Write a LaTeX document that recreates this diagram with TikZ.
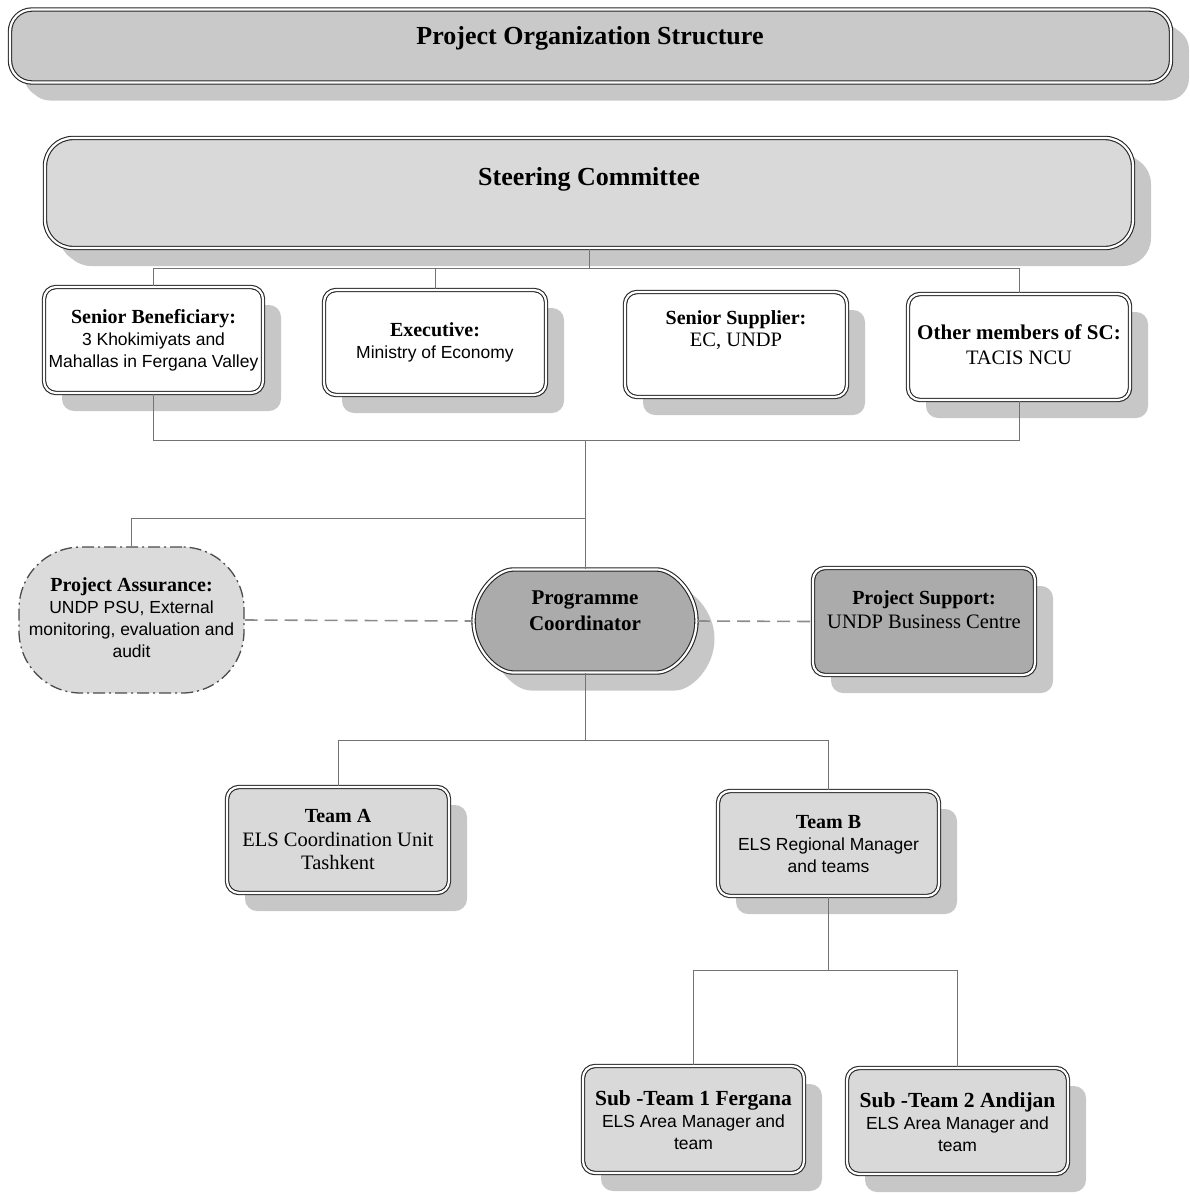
\documentclass[tikz,border=0pt]{standalone}
\usepackage{fontspec}
\setmainfont{Liberation Serif}
\setsansfont{Liberation Sans}
\usetikzlibrary{shadows,shapes.misc}
\newcommand\myhd[1]{{\fontsize{20}{22}\selectfont\bfseries #1}}
\newcommand\mysf[1]{{\fontsize{17.5}{22}\selectfont\sffamily #1}}
\newcommand\myrm[1]{{\fontsize{20.5}{22}\selectfont #1}}
\begin{document}
\begin{tikzpicture}[x=1pt,y=-1pt,
  box/.style={draw=black!85, line width=1.1pt, double=white, double distance=2.2pt,
    rounded corners=12pt, inner sep=0pt,
    drop shadow={shadow xshift=18pt, shadow yshift=-18pt, fill=black!22, opacity=1}},
  bigbox/.style={box, rounded corners=22pt,
    drop shadow={shadow xshift=14pt, shadow yshift=-15pt, fill=black!22, opacity=1}},
  txt/.style={align=center, inner sep=0pt, font=\fontsize{17.5}{22}\selectfont},
  conn/.style={draw=black!55, line width=0.9pt},
  dsh/.style={draw=black!45, line width=1.6pt, dash pattern=on 13pt off 7pt},
  lightfill/.style={fill=black!15},
  darkfill/.style={fill=black!33}
]
\useasboundingbox (0,0) rectangle (1190,1194);

% boxes
\node[bigbox, fill=black!21, minimum width=1161pt, minimum height=73pt] (title) at (590.5,46) {};
\node[bigbox, fill=black!15, minimum width=1088pt, minimum height=110pt, rounded corners=28pt] (sc) at (589,193) {};
\node[box, fill=white, minimum width=219pt, minimum height=106pt] (sb) at (153.5,340) {};
\node[box, fill=white, minimum width=222pt, minimum height=105pt] (ex) at (435,342.5) {};
\node[box, fill=white, minimum width=222pt, minimum height=105pt] (ss) at (736,344.5) {};
\node[box, fill=white, minimum width=222pt, minimum height=106pt] (oth) at (1019,347) {};
\node[draw=black!70, line width=1.3pt, dash pattern=on 12pt off 4pt on 2pt off 4pt,
      fill=black!14, rounded corners=62pt, minimum width=225pt, minimum height=146pt,
      inner sep=0pt] (pa) at (131.5,620) {};
\node[box, rounded rectangle, darkfill, minimum width=223pt, minimum height=103pt] (pc) at (585,621) {};
\node[box, darkfill, minimum width=222pt, minimum height=107pt] (ps) at (924,621.5) {};
\node[box, lightfill, minimum width=222pt, minimum height=106pt] (ta) at (338,840) {};
\node[box, lightfill, minimum width=221pt, minimum height=105pt] (tb) at (828.5,843.5) {};
\node[box, lightfill, minimum width=221pt, minimum height=107pt] (s1) at (693.5,1119.5) {};
\node[box, lightfill, minimum width=221pt, minimum height=106pt] (s2) at (957.5,1121) {};

% texts
\node[txt] (titlet) at (590,38) {\fontsize{26}{28}\selectfont\bfseries Project Organization Structure};
\node[txt] (sct) at (589,179) {\fontsize{26}{28}\selectfont\bfseries Steering Committee};
\node[txt] (sbt) at (153.5,340) {\myhd{Senior Beneficiary:}\\\mysf{3 Khokimiyats and}\\\mysf{Mahallas in Fergana Valley}};
\node[txt] (ext) at (435,342) {\myhd{Executive:}\\\mysf{Ministry of Economy}};
\node[txt] (sst) at (736,330) {\myhd{Senior Supplier:}\\\myrm{EC, UNDP}};
\node[txt, font=\fontsize{20.5}{25}\selectfont] (otht) at (1019,345) {{\fontsize{21}{25}\selectfont\bfseries Other members of SC:}\\\myrm{TACIS NCU}};
\node[txt] (pat) at (131.5,618) {\myhd{Project Assurance:}\\\mysf{UNDP PSU, External}\\\mysf{monitoring, evaluation and}\\\mysf{audit}};
\node[txt, font=\fontsize{21}{26}\selectfont] (pct) at (585,611) {{\bfseries Programme}\\{\bfseries Coordinator}};
\node[txt, font=\fontsize{20.5}{24}\selectfont] (pst) at (924,610) {\myhd{Project Support:}\\\myrm{UNDP Business Centre}};
\node[txt, font=\fontsize{20.5}{23.5}\selectfont] (tat) at (338,839.5) {\myhd{Team A}\\\myrm{ELS Coordination Unit}\\\myrm{Tashkent}};
\node[txt] (tbt) at (828.5,844) {\myhd{Team B}\\\mysf{ELS Regional Manager}\\\mysf{and teams}};
\node[txt] (s1t) at (693.5,1120) {{\fontsize{21.5}{22}\selectfont\bfseries Sub -Team 1 Fergana}\\\mysf{ELS Area Manager and}\\\mysf{team}};
\node[txt] (s2t) at (957.5,1122) {{\fontsize{21.5}{22}\selectfont\bfseries Sub -Team 2 Andijan}\\\mysf{ELS Area Manager and}\\\mysf{team}};

% junction coordinates
\coordinate (j1) at (589,268);
\coordinate (j2) at (585,440);
\coordinate (j3) at (585,518);
\coordinate (j4) at (585,740);
\coordinate (j5) at (828,970);

% connectors
\draw[conn] (sc.south) -- (sc.south |- j1);
\draw[conn] (sb.north) -- (sb.north |- j1) -- (oth.north |- j1) -- (oth.north);
\draw[conn] (ex.north) -- (ex.north |- j1);
\draw[conn] (sb.south) -- (sb.south |- j2) -- (oth.south |- j2) -- (oth.south);
\draw[conn] (pc.north |- j2) -- (pc.north);
\draw[conn] (pa.north) -- (pa.north |- j3) -- (j3);
\draw[dsh] (pa.east) -- (pc.west);
\draw[dsh] (pc.east) -- (ps.west);
\draw[conn] (pc.south) -- (pc.south |- j4);
\draw[conn] (ta.north) -- (ta.north |- j4) -- (tb.north |- j4) -- (tb.north);
\draw[conn] (tb.south) -- (tb.south |- j5);
\draw[conn] (s1.north) -- (s1.north |- j5) -- (s2.north |- j5) -- (s2.north);
\end{tikzpicture}
\end{document}
